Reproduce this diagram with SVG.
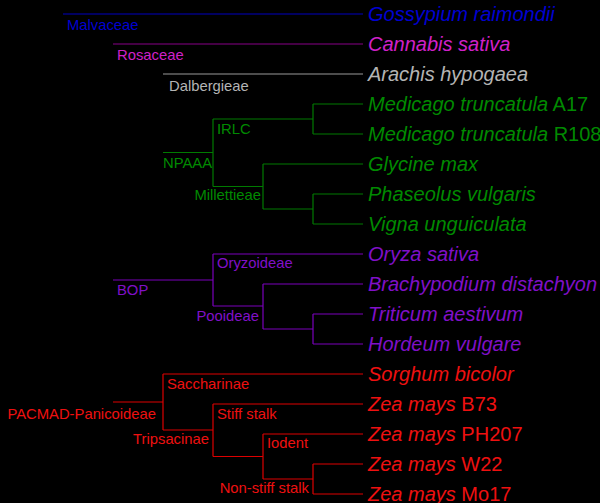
<svg xmlns="http://www.w3.org/2000/svg" width="600" height="503" viewBox="0 0 600 503">
<style>
.bg{fill:#000}
.e{fill:none;stroke-width:1.2}
.lf{font-family:"Liberation Sans",Arial,sans-serif;font-size:20px}
.lf .i{font-style:italic}
.cl{font-family:"Liberation Sans",Arial,sans-serif;font-size:14.8px}
.end{text-anchor:end}
.blue{fill:#0000d0}.blueS{stroke:#0000c0}
.mag{fill:#d020c8}.magS{stroke:#880088}
.gray{fill:#b4b4b4}.grayS{stroke:#999}
.grn{fill:#008a00}.grnS{stroke:#007a00}
.pur{fill:#8010c8}.purS{stroke:#7a00bb}
.red{fill:#ee1010}.redS{stroke:#dd0000}
</style>
<rect class="bg" x="0" y="0" width="600" height="503"/>
<g id="connectors">
  <path class="e blueS" d="M63,14H363"/>
  <path class="e magS" d="M113,44H363"/>
  <path class="e grayS" d="M163,74H363"/>
  <path class="e grnS" d="M163,152.5H213M213,119V186.5M213,119H313M313,104V134M313,104H363M313,134H363M213,186.5H263M263,164V209M263,164H363M263,209H313M313,194V224M313,194H363M313,224H363"/>
  <path class="e purS" d="M113,280H213M213,254V306M213,254H363M213,306H263M263,284V329M263,284H363M263,329H313M313,314V344M313,314H363M313,344H363"/>
  <path class="e redS" d="M113,402H163M163,374V430M163,374H363M163,430H213M213,404V456.5M213,404H363M213,456.5H263M263,434V479M263,434H363M263,479H313M313,464V494M313,464H363M313,494H363"/>
</g>
<g id="clade-labels">
  <g id="malvaceae"><text class="cl blue" x="67" y="30">Malvaceae</text></g>
  <g id="rosaceae"><text class="cl mag" x="117" y="60">Rosaceae</text></g>
  <g id="dalbergieae"><text class="cl gray" x="169" y="90.5">Dalbergieae</text></g>
  <g id="irlc"><text class="cl grn" x="217" y="134">IRLC</text></g>
  <g id="npaaa"><text class="cl grn" x="163" y="167.5">NPAAA</text></g>
  <g id="millettieae"><text class="cl grn end" x="261" y="200">Millettieae</text></g>
  <g id="oryzoideae"><text class="cl pur" x="217" y="267.5">Oryzoideae</text></g>
  <g id="bop"><text class="cl pur" x="117" y="295">BOP</text></g>
  <g id="pooideae"><text class="cl pur end" x="259" y="321">Pooideae</text></g>
  <g id="saccharinae"><text class="cl red" x="167" y="389">Saccharinae</text></g>
  <g id="pacmad"><text class="cl red end" x="156" y="419">PACMAD-Panicoideae</text></g>
  <g id="stiffstalk"><text class="cl red" x="217" y="419">Stiff stalk</text></g>
  <g id="tripsacinae"><text class="cl red end" x="209" y="443.5">Tripsacinae</text></g>
  <g id="iodent"><text class="cl red" x="267" y="448">Iodent</text></g>
  <g id="nonstiffstalk"><text class="cl red end" x="309" y="493">Non-stiff stalk</text></g>
</g>
<g id="leaves">
  <g id="gossypium"><text class="lf blue" x="368" y="20.5"><tspan class="i">Gossypium raimondii</tspan></text></g>
  <g id="cannabis"><text class="lf mag" x="368" y="50.5"><tspan class="i">Cannabis sativa</tspan></text></g>
  <g id="arachis"><text class="lf gray" x="368" y="80.5"><tspan class="i">Arachis hypogaea</tspan></text></g>
  <g id="medicago-a17"><text class="lf grn" x="368" y="110.5"><tspan class="i">Medicago truncatula</tspan> A17</text></g>
  <g id="medicago-r108"><text class="lf grn" x="368" y="140.5"><tspan class="i">Medicago truncatula</tspan> R108</text></g>
  <g id="glycine"><text class="lf grn" x="368" y="170.5"><tspan class="i">Glycine max</tspan></text></g>
  <g id="phaseolus"><text class="lf grn" x="368" y="200.5"><tspan class="i">Phaseolus vulgaris</tspan></text></g>
  <g id="vigna"><text class="lf grn" x="368" y="230.5"><tspan class="i">Vigna unguiculata</tspan></text></g>
  <g id="oryza"><text class="lf pur" x="368" y="260.5"><tspan class="i">Oryza sativa</tspan></text></g>
  <g id="brachypodium"><text class="lf pur" x="368" y="290.5"><tspan class="i">Brachypodium distachyon</tspan></text></g>
  <g id="triticum"><text class="lf pur" x="368" y="320.5"><tspan class="i">Triticum aestivum</tspan></text></g>
  <g id="hordeum"><text class="lf pur" x="368" y="350.5"><tspan class="i">Hordeum vulgare</tspan></text></g>
  <g id="sorghum"><text class="lf red" x="368" y="380.5"><tspan class="i">Sorghum bicolor</tspan></text></g>
  <g id="zea-b73"><text class="lf red" x="368" y="410.5"><tspan class="i">Zea mays</tspan> B73</text></g>
  <g id="zea-ph207"><text class="lf red" x="368" y="440.5"><tspan class="i">Zea mays</tspan> PH207</text></g>
  <g id="zea-w22"><text class="lf red" x="368" y="470.5"><tspan class="i">Zea mays</tspan> W22</text></g>
  <g id="zea-mo17"><text class="lf red" x="368" y="500.5"><tspan class="i">Zea mays</tspan> Mo17</text></g>
</g>
</svg>
